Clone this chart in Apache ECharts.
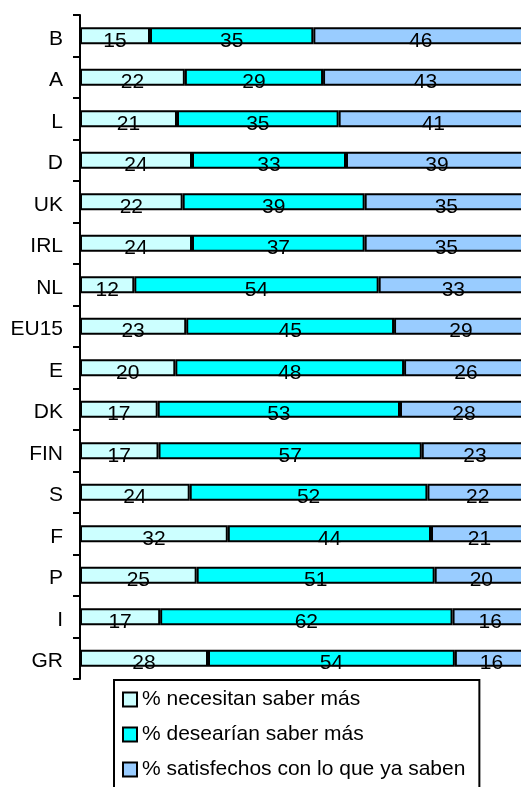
<!DOCTYPE html>
<html>
<head>
<meta charset="utf-8">
<script src="https://cdn.jsdelivr.net/npm/echarts@6/dist/echarts.min.js"></script>
<style>
html,body{margin:0;padding:0;background:#fff;}
#chart{width:521px;height:787px;}
</style>
</head>
<body>
<div id="chart"></div>
<script>
var categories = ['B','A','L','D','UK','IRL','NL','EU15','E','DK','FIN','S','F','P','I','GR'];
var necesitan = [15,22,21,24,22,24,12,23,20,17,17,24,32,25,17,28];
var desearian = [35,29,35,33,39,37,54,45,48,53,57,52,44,51,62,54];
var satisfechos = [46,43,41,39,35,35,33,29,26,28,23,22,21,20,16,16];
var seriesNames = ['% necesitan saber más','% desearían saber más','% satisfechos con lo que ya saben'];
var seriesColors = ['#CCFFFF','#00FFFF','#99CCFF'];
var seriesData = [necesitan, desearian, satisfechos];

// 100% stacked: each bar spans the row total
var rowTotals = categories.map(function(c, j){
  return necesitan[j] + desearian[j] + satisfechos[j];
});

var FONT = '"Liberation Sans", Arial, Helvetica, sans-serif';
var chart = echarts.init(document.getElementById('chart'), null, {renderer:'canvas'});
var series = seriesData.map(function(d, i){
  return {
    name: seriesNames[i],
    type: 'bar',
    stack: 'total',
    data: d.map(function(v, j){ return {value: v / rowTotals[j] * 100, raw: v}; }),
    barWidth: 17,
    itemStyle: {color: seriesColors[i], borderColor: '#000', borderWidth: 2},
    label: {show: true, position: 'inside', offset: [0, 5], color: '#000', fontSize: 21, fontFamily: FONT,
      formatter: function(p){ return String(p.data.raw); }},
    emphasis: {disabled: true},
    animation: false
  };
});
chart.setOption({
  animation: false,
  grid: {left: 80, width: 448, top: 15, height: 664, containLabel: false, outerBoundsMode: 'none'},
  xAxis: {type: 'value', min: 0, max: 100, show: false},
  yAxis: {
    type: 'category', inverse: true, data: categories,
    axisLine: {show: true, lineStyle: {color: '#000', width: 2}},
    axisTick: {show: true, length: 7, lineStyle: {color: '#000', width: 2}},
    axisLabel: {color: '#000', fontSize: 21, fontFamily: FONT, margin: 17, verticalAlign: 'top', lineHeight: 6},
    splitLine: {show: false}
  },
  legend: {
    orient: 'vertical', left: 114, top: 680, height: 110,
    itemWidth: 14, itemHeight: 14, itemGap: 14,
    icon: 'rect',
    borderColor: '#000', borderWidth: 2,
    padding: [9, 14, 20, 8],
    textStyle: {color: '#000', fontSize: 21, fontFamily: FONT},
    selectedMode: false,
    data: seriesNames
  },
  series: series
});
</script>
</body>
</html>
